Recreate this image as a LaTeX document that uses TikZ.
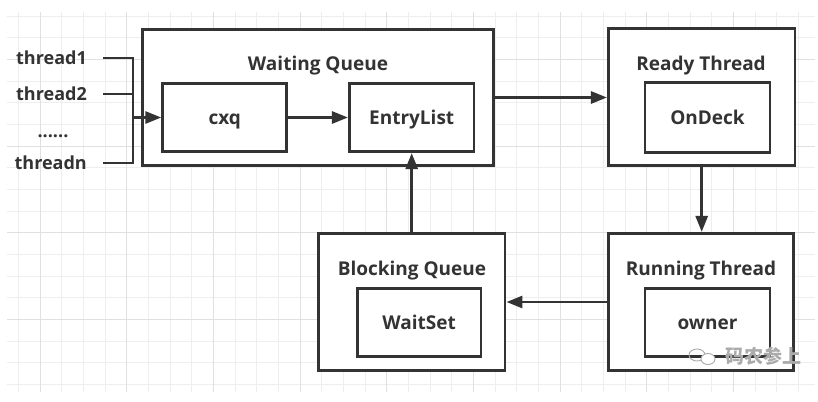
\documentclass[tikz,border=0pt]{standalone}
\usepackage{fontspec}
\setmainfont{Open Sans}
\newfontfamily\cjk{Noto Sans CJK SC}
\usetikzlibrary{arrows.meta}
\definecolor{ink}{HTML}{333333}
\definecolor{gridminor}{HTML}{EEEEEE}
\definecolor{gridmajor}{HTML}{E0E0E0}
\definecolor{wmark}{HTML}{ABABAB}
\begin{document}
\begin{tikzpicture}[x=1pt,y=-1pt,
  box/.style={draw=ink, line width=2.8pt, fill=white, inner sep=0pt},
  lbl/.style={font=\bfseries\fontsize{19}{22}\selectfont, text=ink, inner sep=0pt, text height=18pt, text depth=4.4pt},
  thr/.style={font=\bfseries\fontsize{18}{21}\selectfont, text=ink, anchor=east, inner xsep=16pt, inner ysep=0pt, text height=17pt, text depth=4pt},
  conn/.style={draw=ink, line width=2.8pt},
  arr/.style={conn, -{Triangle[length=16pt,width=12pt]}}]
\useasboundingbox (0,0) rectangle (818,401);
\fill[white] (0,0) rectangle (818,401);
% grid
\begin{scope}
\clip (7,12) rectangle (815,392);
\foreach \i in {-1,...,36}{\draw[gridminor, line width=0.9pt] ({40+\i*21.6667},12) -- ({40+\i*21.6667},392);}
\foreach \j in {0,...,17}{\draw[gridminor, line width=0.9pt] (7,{16+\j*21.6667}) -- (815,{16+\j*21.6667});}
\foreach \i in {0,4,...,36}{\draw[gridmajor, line width=1pt] ({40+\i*21.6667},12) -- ({40+\i*21.6667},392);}
\foreach \j in {2,6,10,14}{\draw[gridmajor, line width=1pt] (7,{16+\j*21.6667}) -- (815,{16+\j*21.6667});}
\end{scope}
% boxes
\node[box, minimum width=350.6pt, minimum height=136.4pt] (wq) at (318,97.5) {};
\node[lbl] (wqt) at (318,63.5) {Waiting Queue};
\node[box, minimum width=124pt, minimum height=68.4pt, lbl] (cxq) at (224.7,117.5) {cxq};
\node[box, minimum width=124.7pt, minimum height=68.4pt, lbl] (entry) at (411.7,117.5) {EntryList};

\node[box, minimum width=186.7pt, minimum height=137.4pt] (ready) at (701.7,97) {};
\node[lbl] (readyt) at (701,63.5) {Ready Thread};
\node[box, minimum width=125pt, minimum height=69.6pt, lbl] (ondeck) at (707.5,117.5) {OnDeck};

\node[box, minimum width=185pt, minimum height=137.4pt] (running) at (700.8,302) {};
\node[lbl] (runningt) at (701,268.5) {Running Thread};
\node[box, minimum width=125pt, minimum height=68.4pt, lbl] (owner) at (707.5,322.5) {owner};

\node[box, minimum width=186.7pt, minimum height=137.4pt] (blocking) at (411.7,302) {};
\node[lbl] (blockingt) at (412,268.5) {Blocking Queue};
\node[box, minimum width=123.7pt, minimum height=68.4pt, lbl] (waitset) at (419.2,322.5) {WaitSet};

% threads
\node[thr] (t1) at (103,58) {thread1};
\node[thr] (t2) at (103,94) {thread2};
\node[font=\bfseries\fontsize{18}{21}\selectfont, text=ink, inner sep=0pt] (dots) at (53,136) {......};
\node[thr] (tn) at (103,163) {threadn};
\coordinate (jt) at (133,58);
\coordinate (jb) at (133,163);
\coordinate (jm) at (133,117.5);
\draw[conn, line join=miter] (t1.east) -- (jt) -- (jb) -- (tn.east);
\draw[conn] (t2.east) -- (t2.east -| jt);
\draw[arr] (jm) -- (cxq.west);

% connectors
\draw[arr] (cxq.east) -- (entry.west);
\draw[arr] (wq.east) -- (wq.east -| ready.west);
\draw[arr] (ready.south) -- (ready.south |- running.north);
\draw[arr] (running.west) -- (blocking.east);
\draw[arr] (blocking.north) -- (entry.south);

% watermark
\begin{scope}[wmark, line width=0.9pt]
\draw (697,355) ellipse (8pt and 6pt);
\draw[fill=white] (708,359) ellipse (7pt and 5.5pt);
\end{scope}
\node[text=wmark, font=\cjk\bfseries\fontsize{19}{22}\selectfont, inner sep=0pt] (wm) at (763,356) {码农参上};
\end{tikzpicture}
\end{document}
